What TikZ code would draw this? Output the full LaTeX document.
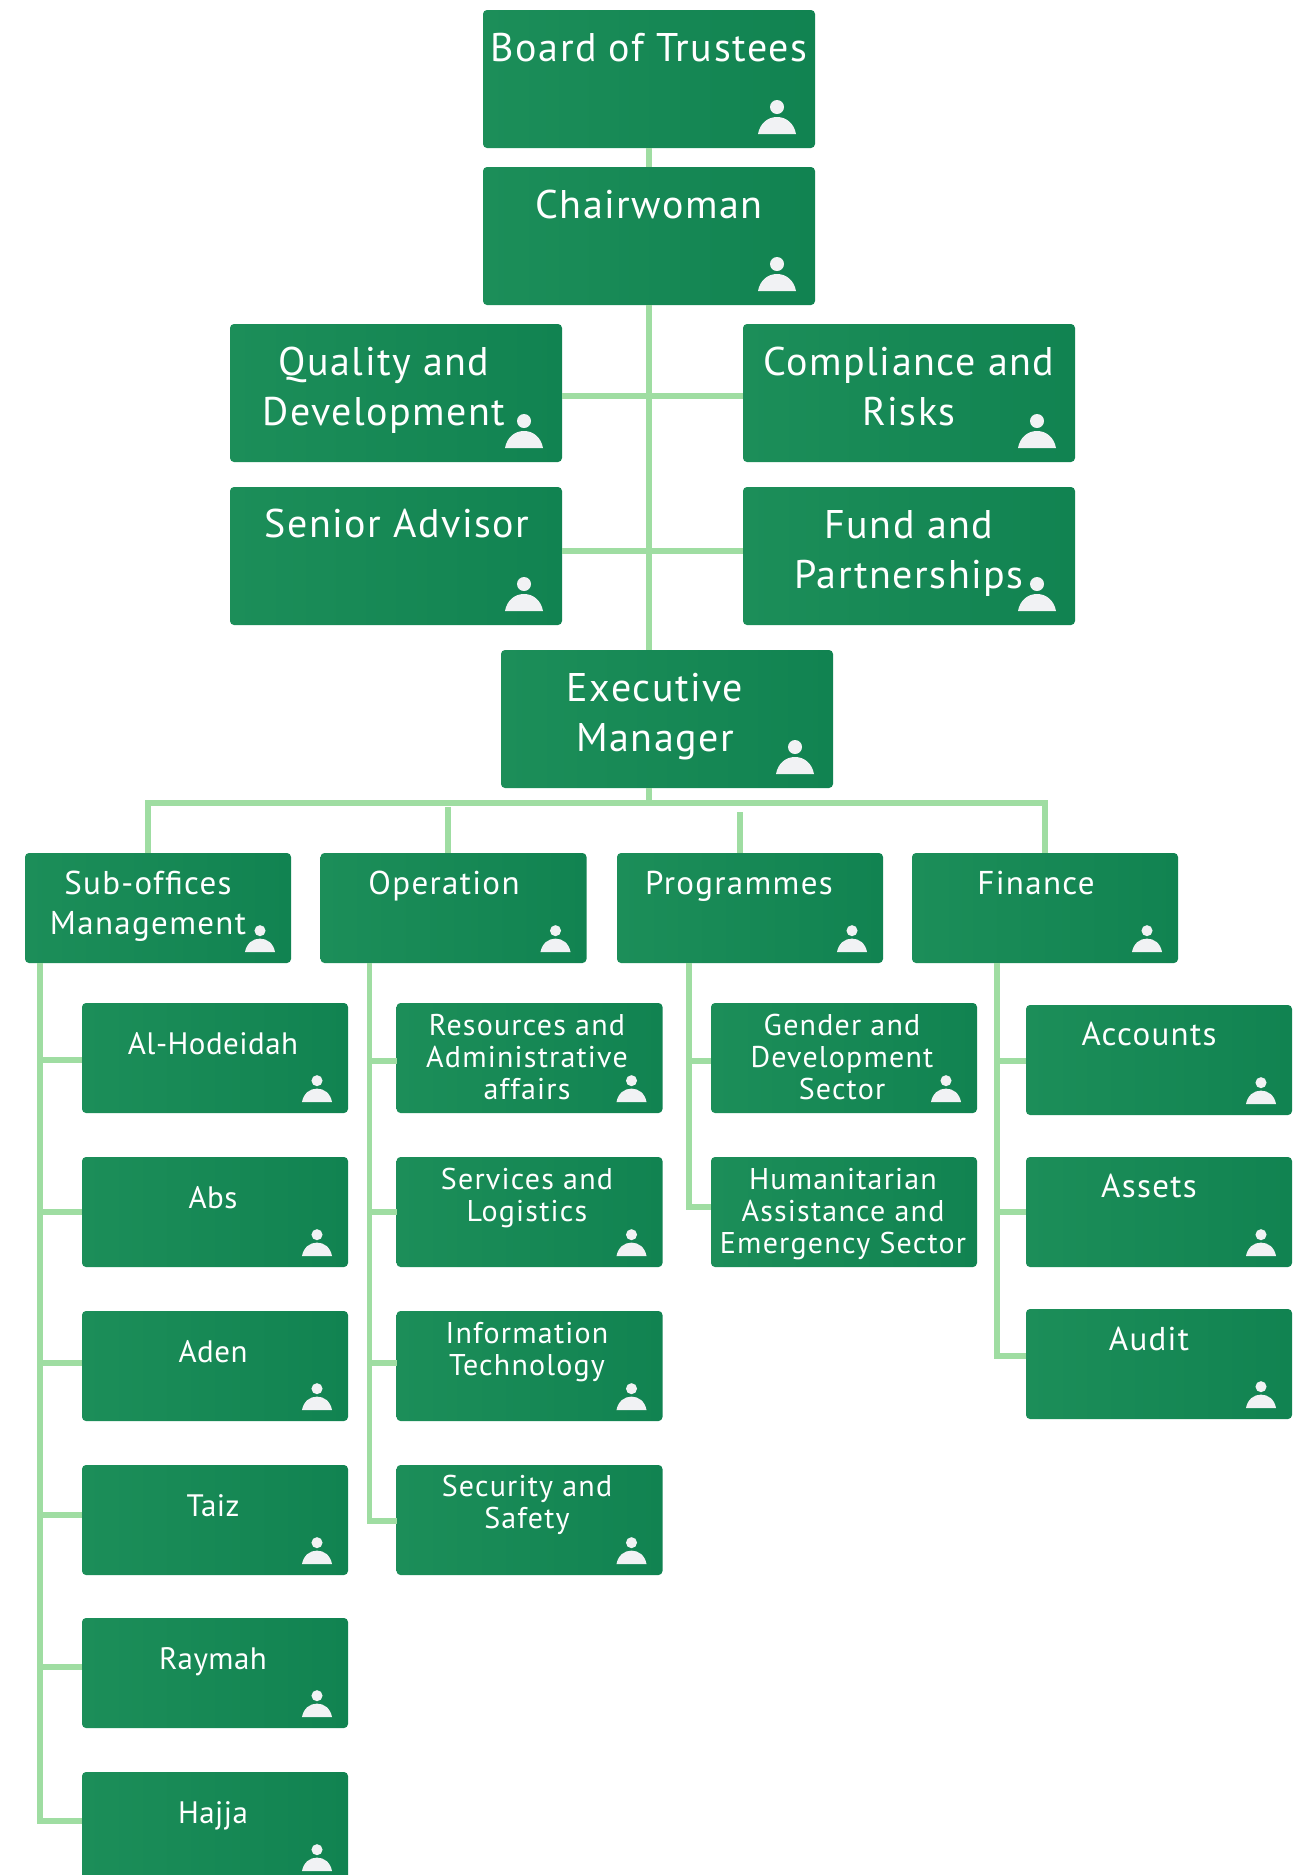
\documentclass[tikz,border=0pt]{standalone}
\usepackage{fontspec}
\setmainfont{PT Sans}
\usetikzlibrary{
    positioning,
    calc
}
\definecolor{boxleft}{HTML}{1C8E59}
\definecolor{boxright}{HTML}{118351}
\definecolor{linkgreen}{HTML}{9FDDA2}
\definecolor{personwhite}{HTML}{F1F2F4}
\tikzset{
    % Boxes
    org box/.style={rectangle,rounded corners=4pt,left color=boxleft,right color=boxright,inner sep=0pt,outer sep=0pt},
    big box/.style={org box,minimum width=332pt,minimum height=138pt},
    mid box/.style={org box,minimum width=266pt,minimum height=110pt},
    %
    % Texts
    org text/.style={text=white,align=center,anchor=base,inner sep=0pt},
    big text/.style={org text,font=\fontsize{40}{50}\selectfont\addfontfeature{LetterSpace=3.8}},
    mid text/.style={org text,font=\fontsize{33}{40}\selectfont\addfontfeature{LetterSpace=4}},
    side text/.style={org text,font=\fontsize{31}{40}\selectfont\addfontfeature{LetterSpace=1.5}},
    small text/.style={org text,font=\fontsize{30}{32}\selectfont\addfontfeature{LetterSpace=4}},
    %
    % Connectors
    link/.style={draw=linkgreen,line width=5.7pt},
    %
    % Person icon
    person/.pic={
        \fill[personwhite] (0,-27) circle[radius=7];
        \fill[personwhite] (-19,0) .. controls (-17,-11) and (-9,-17) .. (0,-17) .. controls (9,-17) and (17,-11) .. (19,0) -- cycle;
    },
    big person/.style={shift={(-38,-14)}},
    mid person/.style={shift={(-31,-11)},scale=.79}
}
\begin{document}
\begin{tikzpicture}[x=1pt,y=-1pt]
    \path[use as bounding box,clip] (0,0) rectangle (1307,1875);
    \coordinate (bus) at (649,803);
    \coordinate (op top) at (448,807);
    \coordinate (prog top) at (740,812);
    \coordinate (sub trunk) at (40,963);
    \coordinate (op trunk) at (369.5,963);
    \coordinate (prog trunk) at (689,963);
    \coordinate (fin trunk) at (997,963);
    % Top boxes
    \node[big box] (board) at (649,79) {};
    \node[big box] (chair) at (649,236) {};
    \node[big box] (quality) at (396,393) {};
    \node[big box] (compliance) at (909,393) {};
    \node[big box] (senior) at (396,556) {};
    \node[big box] (fund) at (909,556) {};
    \node[big box] (exec) at (667,719) {};
    % Departments
    \node[mid box] (sub) at (158,908) {};
    \node[mid box] (op) at (453.5,908) {};
    \node[mid box] (prog) at (750,908) {};
    \node[mid box] (fin) at (1045,908) {};
    % Sections
    \foreach \name/\xpos/\ypos in {hodeidah/215/1058,abs/215/1212,aden/215/1366,taiz/215/1520,raymah/215/1673,hajja/215/1827,
        resources/529.5/1058,services/529.5/1212,information/529.5/1366,security/529.5/1520,
        gender/844/1058,humanitarian/844/1212,
        accounts/1159/1060,assets/1159/1212,audit/1159/1364}
        \node[mid box] (\name) at (\xpos,\ypos) {};
    % Connectors
    \draw[link] (board) -- (chair);
    \draw[link] (chair.south) -- (chair.south |- exec.north);
    \draw[link] (quality.east |- 0,396) -- (compliance.west |- 0,396);
    \draw[link] (senior.east |- 0,551) -- (fund.west |- 0,551);
    \draw[link] (bus |- exec.south) -- (bus);
    \draw[link] ([xshift=-10]sub.north) |- (bus) -| (fin.north);
    \draw[link] (op top) -- (op top |- op.north);
    \draw[link] (prog top) -- (prog top |- prog.north);
    % Trunks
    \draw[link] (sub trunk) |- (hajja.west |- 0,1821);
    \draw[link] (op trunk) |- (security.west |- 0,1521);
    \draw[link] (prog trunk) |- (humanitarian.west |- 0,1207);
    \draw[link] (fin trunk) |- (audit.west |- 0,1356);
    \foreach \name/\ypos in {hodeidah/1060,abs/1212,aden/1363,taiz/1515,raymah/1667}
        \draw[link] (sub trunk |- 0,\ypos) -- (\name.west |- 0,\ypos);
    \foreach \name/\ypos in {resources/1061,services/1212,information/1363}
        \draw[link] (op trunk |- 0,\ypos) -- (\name.west |- 0,\ypos);
    \draw[link] (prog trunk |- 0,1061) -- (gender.west |- 0,1061);
    \foreach \name/\ypos in {accounts/1061,assets/1212}
        \draw[link] (fin trunk |- 0,\ypos) -- (\name.west |- 0,\ypos);
    % Labels
    \node[big text] (board text) at (649,61) {Board of Trustees};
    \node[big text] (chair text) at (649,218) {Chairwoman};
    \node[big text] (quality text) at (384,425) {Quality and\\Development};
    \node[big text] (compliance text) at (909,425) {Compliance and\\Risks};
    \node[big text] (senior text) at (397,537) {Senior Advisor};
    \node[big text] (fund text) at (909,588) {Fund and\\Partnerships};
    \node[big text] (exec text) at (655,751) {Executive\\Manager};
    \node[mid text] (sub text) at (148,934) {Sub-offices\\Management};
    \node[mid text] (op text) at (444,894) {Operation};
    \node[mid text] (prog text) at (739,894) {Programmes};
    \node[mid text] (fin text) at (1036,894) {Finance};
    \foreach \name/\ypos/\txt in {hodeidah/1054/Al-Hodeidah,abs/1208/Abs,aden/1362/Aden,taiz/1516/Taiz,raymah/1669/Raymah,hajja/1823/Hajja}
        \node[side text] (\name text) at (213,\ypos) {\txt};
    \foreach \name/\ypos/\txt in {resources/1099/Resources and\\Administrative\\affairs,services/1221/Services and\\Logistics,information/1375/Information\\Technology,security/1528/Security and\\Safety}
        \node[small text] (\name text) at (527,\ypos) {\txt};
    \node[small text] (gender text) at (842,1099) {Gender and\\Development\\Sector};
    \node[small text] (humanitarian text) at (843,1253) {Humanitarian\\Assistance and\\Emergency Sector};
    \foreach \name/\ypos/\txt in {accounts/1045/Accounts,assets/1197/Assets,audit/1350/Audit}
        \node[mid text] (\name text) at (1149,\ypos) {\txt};
    % Person icons
    \foreach \name in {board,chair,quality,compliance,senior,fund,exec}
        \pic[big person] at (\name.south east) {person};
    \foreach \name in {sub,op,prog,fin,hodeidah,abs,aden,taiz,raymah,hajja,resources,services,information,security,gender,accounts,assets,audit}
        \pic[mid person] at (\name.south east) {person};
\end{tikzpicture}
\end{document}
